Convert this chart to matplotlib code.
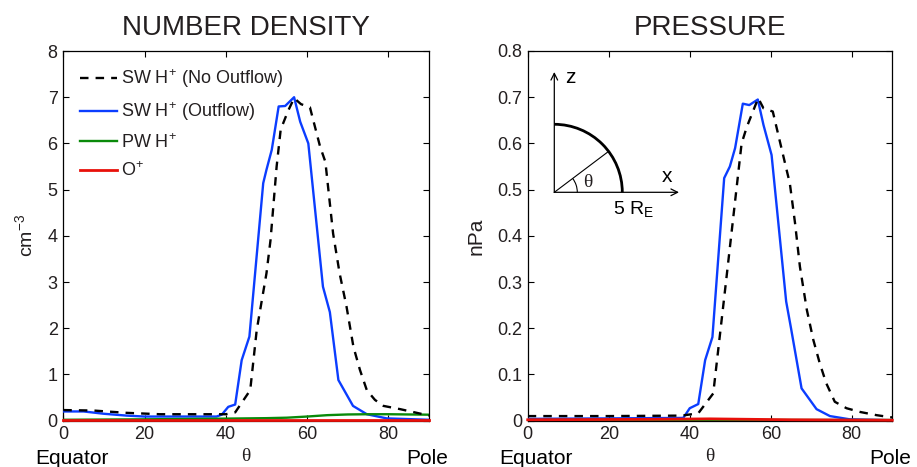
import numpy as np
import matplotlib
matplotlib.use("Agg")
import matplotlib.pyplot as plt
from matplotlib.patches import Arc, FancyArrowPatch

plt.rcParams['font.family'] = ['Liberation Sans', 'DejaVu Sans']
plt.rcParams['mathtext.fontset'] = 'custom'
plt.rcParams['mathtext.rm'] = 'Liberation Sans'
plt.rcParams['mathtext.it'] = 'Liberation Sans:italic'
plt.rcParams['mathtext.bf'] = 'Liberation Sans:bold'

# ---------------- data ----------------
# Number density (cm^-3)
dens_no_theta = [0, 7.4, 15.6, 23.8, 37.7, 40, 42.3, 46.0, 47.6, 50.0, 51.0, 52.5, 53.5,
                 55.3, 56.8, 58.5, 60.7, 63.2, 64.5, 66.4, 68.0, 69.7, 71.4, 73.0,
                 74.7, 76.7, 78.8, 82.9, 87.0, 90]
dens_no = [0.23, 0.22, 0.17, 0.14, 0.14, 0.14, 0.18, 0.66, 1.96, 3.19, 3.91, 5.5, 6.3,
           6.7, 6.98, 6.85, 6.78, 5.93, 5.6, 4.05, 3.19, 2.47, 1.6, 1.1,
           0.66, 0.45, 0.32, 0.25, 0.17, 0.11]

dens_out_theta = [0, 5, 10, 15.6, 20, 37.7, 39, 40.6, 42.3, 43.9, 45.8, 49.2, 50.0, 51.3,
                  53.0, 54.6, 56.8, 58.3, 60.3, 63.9, 65.6, 67.7, 71.3, 74.7, 79.6, 90]
dens_out = [0.20, 0.20, 0.15, 0.11, 0.09, 0.09, 0.13, 0.30, 0.35, 1.31, 1.82, 5.14, 5.43,
            5.86, 6.8, 6.81, 7.0, 6.47, 6.0, 2.9, 2.35, 0.88, 0.32, 0.14, 0.05, 0.02]

dens_pw_theta = [0, 20, 40, 50, 55, 60, 65, 70, 75, 80, 90]
dens_pw = [0.02, 0.03, 0.045, 0.055, 0.065, 0.09, 0.12, 0.135, 0.14, 0.14, 0.13]

dens_o_theta = [0, 30, 60, 90]
dens_o = [0.005, 0.005, 0.005, 0.005]

# Pressure (nPa)
pres_no_theta = [0, 20, 38, 42.1, 45.8, 49.2, 52.8, 54.1, 56.9, 58.2, 60.5, 63.9, 64.7,
                 66.0, 67.2, 68.9, 70.5, 72.1, 73.7, 75.8, 78.7, 82, 86.1, 90]
pres_no = [0.010, 0.010, 0.011, 0.016, 0.059, 0.32, 0.60, 0.636, 0.698, 0.676, 0.669,
           0.543, 0.514, 0.427, 0.333, 0.24, 0.175, 0.124, 0.081, 0.041, 0.027, 0.019,
           0.012, 0.007]

pres_out_theta = [0, 20, 38.4, 40, 42.1, 43.8, 45.6, 48.5, 49.9, 51.2, 53.1, 54.7, 56.8,
                  58.2, 60.2, 63.8, 65.0, 67.6, 71.3, 74.6, 79.5, 90]
pres_out = [0.004, 0.005, 0.006, 0.027, 0.036, 0.131, 0.181, 0.525, 0.55, 0.59, 0.686,
            0.683, 0.695, 0.64, 0.575, 0.258, 0.2, 0.07, 0.025, 0.01, 0.003, 0.001]

pres_pw_theta = [0, 30, 60, 90]
pres_pw = [0.001, 0.001, 0.001, 0.001]

pres_o_theta = [0, 30, 45, 55, 65, 90]
pres_o = [0.002, 0.003, 0.004, 0.003, 0.002, 0.001]

legend_labels = [r"SW H$^{+}$ (No Outflow)", r"SW H$^{+}$ (Outflow)", r"PW H$^{+}$", r"O$^{+}$"]
titles = ["NUMBER DENSITY", "PRESSURE"]
ylabels = [r"cm$^{-3}$", "nPa"]
xticks = [0, 20, 40, 60, 80]

# ---------------- style ----------------
W, H = 917, 467
C_BLUE = '#0b3dff'
C_GREEN = '#0a8a0a'
C_RED = '#e8100a'
TXT = '#231f20'
LW = 1.7
DASH = (0, (3.6, 3.0))

fig = plt.figure(figsize=(W / 100, H / 100), dpi=100)

def px_axes(l, r, t, b):
    return fig.add_axes([l / W, 1 - b / H, (r - l) / W, (b - t) / H])

ax1 = px_axes(63.3, 429, 51, 420.7)
ax2 = px_axes(527.7, 892.3, 51, 420.7)

# density panel
ax1.plot(dens_no_theta, dens_no, color='black', lw=LW, ls=DASH, label=legend_labels[0], zorder=4)
ax1.plot(dens_out_theta, dens_out, color=C_BLUE, lw=LW, label=legend_labels[1], zorder=3)
ax1.plot(dens_pw_theta, dens_pw, color=C_GREEN, lw=LW, label=legend_labels[2], zorder=3)
ax1.plot(dens_o_theta, dens_o, color=C_RED, lw=2.0, label=legend_labels[3], zorder=5, clip_on=False)
ax1.set_ylim(0, 8)
ax1.set_yticks(range(0, 9))

# pressure panel
ax2.plot(pres_no_theta, pres_no, color='black', lw=LW, ls=DASH, zorder=4)
ax2.plot(pres_out_theta, pres_out, color=C_BLUE, lw=LW, zorder=3)
ax2.plot(pres_pw_theta, pres_pw, color=C_GREEN, lw=LW, zorder=3)
ax2.plot(pres_o_theta, pres_o, color=C_RED, lw=2.0, zorder=5, clip_on=False)
ax2.set_ylim(0, 0.8)
ax2.set_yticks(np.arange(0, 0.81, 0.1))
ax2.set_yticklabels(['0'] + ['%.1f' % v for v in np.arange(0.1, 0.81, 0.1)])

for ax, title, yl, yfs in zip([ax1, ax2], titles, ylabels, [14, 15]):
    ax.set_xlim(0, 90)
    ax.set_xticks(xticks)
    ax.tick_params(direction='in', top=True, right=True, length=4, width=0.8,
                   labelsize=13, labelcolor=TXT, pad=4)
    for s in ax.spines.values():
        s.set_linewidth(0.9)
    ax.set_title(title, fontsize=20, color=TXT, pad=11.5)
    ax.set_ylabel(yl, fontsize=yfs, color=TXT, labelpad=8)
    ax.text(-0.077, -0.102, "Equator", transform=ax.transAxes, ha='left', va='center',
            fontsize=15, color='black')
    ax.text(1.052, -0.102, "Pole", transform=ax.transAxes, ha='right', va='center',
            fontsize=15, color='black')
    ax.text(0.5, -0.096, "θ", transform=ax.transAxes, ha='center', va='center',
            fontsize=14, color=TXT, family=['Liberation Serif', 'DejaVu Serif'])

leg = ax1.legend(loc='upper left', frameon=False, fontsize=13, handlelength=2.05,
                 handletextpad=0.2, labelspacing=0.55, borderaxespad=0, borderpad=0,
                 bbox_to_anchor=(0.0457, 0.955))
for t in leg.get_texts():
    t.set_color(TXT)

# ---------------- inset geometry diagram (pixel units) ----------------
ox, oy = 554.3, 467 - 192.3
R = 68.0
ang = 37.0
inset = fig.add_axes([530 / W, (467 - 230) / H, 180 / W, 180 / H])
inset.set_xlim(530, 710)
inset.set_ylim(467 - 230, 467 - 50)
inset.axis('off')
inset.patch.set_alpha(0)
inset.add_patch(FancyArrowPatch((ox, oy), (ox, 467 - 72), arrowstyle='->', mutation_scale=12,
                                lw=0.9, color='black', shrinkA=0, shrinkB=0))
inset.add_patch(FancyArrowPatch((ox, oy), (679, oy), arrowstyle='->', mutation_scale=12,
                                lw=0.9, color='black', shrinkA=0, shrinkB=0))
inset.add_patch(Arc((ox, oy), 2 * R, 2 * R, theta1=0, theta2=90, lw=2.0, color='black'))
inset.add_patch(Arc((ox, oy), 46, 46, theta1=0, theta2=ang, lw=0.8, color='black'))
inset.plot([ox, ox + R * np.cos(np.radians(ang))], [oy, oy + R * np.sin(np.radians(ang))],
           color='black', lw=0.8)
inset.text(588, 467 - 182.5, "θ", ha='center', va='center', fontsize=14, color=TXT,
           family=['Liberation Serif', 'DejaVu Serif'])
inset.text(570, 467 - 78, "z", ha='center', va='center', fontsize=15, color='black')
inset.text(667, 467 - 176, "x", ha='center', va='center', fontsize=15, color='black')
inset.text(634, 467 - 209, r"5 R$_{\mathrm{E}}$", ha='center', va='center', fontsize=14, color='black')

fig.savefig("out.png", dpi=100)
